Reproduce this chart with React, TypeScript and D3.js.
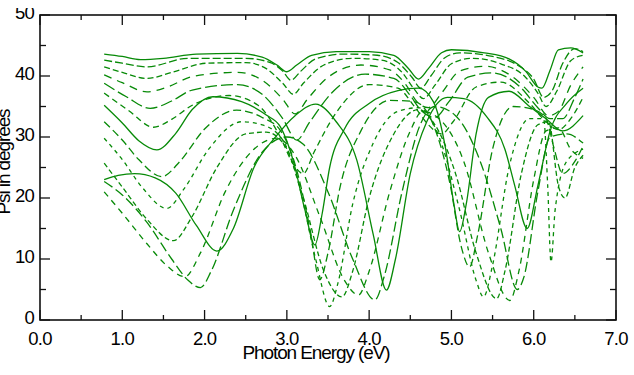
import React from "react";
import * as d3 from "d3";

type P = [number, number];

const xTicks = [0, 1, 2, 3, 4, 5, 6, 7];
const xMinor = [0.5, 1.5, 2.5, 3.5, 4.5, 5.5, 6.5];
const yTicks = [0, 10, 20, 30, 40, 50];
const yMinor = [5, 15, 25, 35, 45];
const xTitle = "Photon Energy (eV)";
const yTitle = "Psi in degrees";

const c1: P[] = [[0.78,43.6],[1.0,43.2],[1.22,42.7],[1.5,42.9],[1.9,43.6],[2.4,43.7],[2.7,43.1],[2.88,41.8],[3.0,40.7],[3.12,41.8],[3.3,43.4],[3.6,44.0],[4.0,44.0],[4.3,43.4],[4.48,41.2],[4.6,39.5],[4.72,41.2],[4.88,43.8],[5.0,44.3],[5.4,43.8],[5.7,42.8],[5.9,40.8],[6.05,38.2],[6.1,38.0],[6.2,41.0],[6.3,44.3],[6.45,44.6],[6.6,43.8]];
const c2: P[] = [[0.78,42.6],[1.0,42.1],[1.3,41.5],[1.8,42.9],[2.5,42.9],[2.8,42.2],[2.95,40.8],[3.05,39.3],[3.17,40.8],[3.35,42.8],[3.7,43.6],[4.1,43.4],[4.35,42.2],[4.52,39.8],[4.63,38.0],[4.75,40.0],[4.92,43.0],[5.1,43.8],[5.5,43.2],[5.8,41.8],[6.0,39.5],[6.12,36.5],[6.22,37.5],[6.35,42.0],[6.5,44.5],[6.6,44.0]];
const c3: P[] = [[0.78,41.5],[1.0,40.6],[1.3,39.6],[1.6,40.6],[2.03,42.1],[2.5,42.2],[2.75,41.2],[2.95,38.8],[3.08,37.0],[3.2,38.8],[3.45,41.8],[3.8,42.9],[4.15,42.6],[4.4,40.6],[4.55,37.8],[4.66,36.3],[4.8,38.5],[5.0,42.0],[5.25,42.9],[5.6,42.0],[5.9,39.8],[6.05,37.2],[6.15,35.0],[6.28,37.5],[6.45,42.5],[6.6,43.4]];
const c4: P[] = [[0.78,40.2],[1.0,38.9],[1.3,37.4],[1.55,38.2],[1.85,39.9],[2.4,40.6],[2.7,39.3],[2.95,36.2],[3.1,33.8],[3.25,36.2],[3.5,39.8],[3.9,41.8],[4.25,41.0],[4.45,38.5],[4.58,35.8],[4.72,34.8],[4.88,37.2],[5.1,40.8],[5.4,41.6],[5.75,39.8],[6.0,36.5],[6.18,33.5],[6.3,34.2],[6.45,38.5],[6.6,41.5]];
const c5: P[] = [[0.78,38.8],[1.05,36.6],[1.34,34.7],[1.6,35.9],[1.85,37.7],[2.4,38.6],[2.7,37.0],[2.95,33.0],[3.12,29.5],[3.28,32.5],[3.55,37.3],[3.95,40.3],[4.3,39.6],[4.5,36.8],[4.62,34.5],[4.8,33.2],[4.97,35.8],[5.2,39.8],[5.5,40.5],[5.85,38.0],[6.05,34.8],[6.2,33.0],[6.35,33.0],[6.5,36.5],[6.6,39.5]];
const c6: P[] = [[0.78,37.2],[1.08,34.3],[1.38,31.6],[1.6,32.9],[1.85,35.2],[2.3,36.8],[2.65,35.2],[2.92,30.0],[3.08,25.5],[3.2,24.0],[3.33,27.5],[3.6,34.0],[4.0,38.6],[4.35,38.0],[4.55,35.0],[4.72,32.0],[4.88,30.5],[5.02,32.5],[5.3,38.2],[5.6,39.0],[5.95,35.5],[6.15,32.5],[6.3,31.2],[6.45,33.0],[6.6,36.5]];
const c7: P[] = [[0.78,35.2],[1.0,32.3],[1.2,29.4],[1.42,27.9],[1.65,30.6],[1.85,34.5],[2.1,36.6],[2.45,35.8],[2.75,33.6],[2.92,31.7],[3.08,26.0],[3.22,18.0],[3.34,12.3],[3.43,17.5],[3.52,25.0],[3.7,31.3],[4.0,35.5],[4.35,37.6],[4.6,38.0],[4.78,35.8],[4.93,28.0],[5.03,19.0],[5.1,14.5],[5.18,19.0],[5.3,30.5],[5.45,36.5],[5.7,37.5],[5.95,35.0],[6.15,33.0],[6.35,31.0],[6.6,33.5]];
const c8: P[] = [[0.78,32.5],[1.0,29.5],[1.2,26.3],[1.48,23.5],[1.7,26.0],[2.0,31.3],[2.39,34.4],[2.7,33.2],[2.92,31.1],[3.1,25.5],[3.28,15.0],[3.4,6.6],[3.5,11.0],[3.65,22.0],[3.9,31.0],[4.25,36.0],[4.55,35.8],[4.78,32.0],[4.98,22.5],[5.12,12.0],[5.22,8.7],[5.32,14.0],[5.5,28.0],[5.75,35.0],[6.0,34.5],[6.15,33.0],[6.25,28.0],[6.35,24.0],[6.5,26.0],[6.6,28.5]];
const c9: P[] = [[0.78,29.8],[1.0,26.3],[1.25,21.6],[1.54,18.3],[1.75,21.5],[2.05,28.0],[2.45,32.5],[2.7,32.0],[2.95,29.5],[3.15,22.0],[3.35,10.0],[3.52,2.2],[3.62,6.0],[3.8,19.0],[4.05,29.0],[4.35,34.2],[4.6,34.8],[4.85,30.0],[5.1,18.0],[5.3,6.5],[5.39,3.8],[5.5,9.0],[5.7,25.0],[5.95,33.0],[6.12,33.0],[6.17,22.0],[6.21,9.5],[6.26,18.0],[6.4,26.0],[6.6,28.0]];
const c10: P[] = [[0.78,25.7],[1.0,21.8],[1.3,16.5],[1.62,13.0],[1.85,17.0],[2.15,25.0],[2.5,30.5],[2.75,30.8],[2.98,28.5],[3.2,20.0],[3.45,8.0],[3.67,3.8],[3.8,8.0],[4.0,20.0],[4.3,30.5],[4.6,34.5],[4.8,32.0],[5.05,24.0],[5.3,11.0],[5.55,3.5],[5.65,8.0],[5.85,24.0],[6.05,32.0],[6.18,32.5],[6.3,22.0],[6.38,20.0],[6.5,25.0],[6.6,27.0]];
const c11: P[] = [[0.78,23.0],[0.95,23.7],[1.15,24.0],[1.4,23.3],[1.65,20.8],[1.9,15.5],[2.15,11.3],[2.35,15.0],[2.6,25.0],[2.85,29.8],[3.1,33.5],[3.35,35.4],[3.6,32.5],[3.85,26.2],[4.05,14.0],[4.21,4.9],[4.32,10.0],[4.5,24.0],[4.7,32.5],[4.95,36.5],[5.15,36.3],[5.43,33.3],[5.65,28.0],[5.77,22.0],[5.92,15.0],[6.05,22.0],[6.2,31.0],[6.4,35.5],[6.6,38.0]];
const c12: P[] = [[0.78,22.7],[1.0,20.5],[1.3,16.0],[1.6,10.0],[1.8,6.5],[1.95,5.3],[2.08,8.0],[2.35,18.0],[2.7,27.5],[3.0,30.0],[3.2,28.8],[3.5,21.0],[3.8,10.0],[4.07,3.3],[4.18,7.0],[4.4,21.0],[4.62,32.0],[4.8,35.0],[5.05,33.5],[5.35,26.0],[5.6,15.0],[5.8,5.0],[5.88,7.0],[6.05,21.0],[6.2,30.0],[6.4,30.5],[6.6,29.0]];
const c13: P[] = [[0.78,21.0],[1.0,17.5],[1.3,12.5],[1.55,8.8],[1.76,7.1],[1.95,11.0],[2.25,21.0],[2.6,28.0],[2.88,29.8],[3.1,27.0],[3.4,17.0],[3.7,6.5],[3.87,4.1],[4.0,8.0],[4.25,21.0],[4.5,31.0],[4.65,34.2],[4.85,33.0],[5.15,26.0],[5.45,11.0],[5.71,3.2],[5.82,8.0],[6.0,23.0],[6.15,31.0],[6.3,31.5],[6.45,28.0],[6.6,26.5]];

const seriesList: P[][] = [c1, c2, c3, c4, c5, c6, c7, c8, c9, c10, c11, c12, c13];
const dashList = ["", "8,3", "6,3", "8,6", "12,4", "6,4", "", "8,4", "4,4", "5,3", "", "10,4", "6,5"];

const W = 634, H = 375;
const L = 40, R = 616, T = 15, B = 320;
const FONT = "'Liberation Sans', Arial, Helvetica, sans-serif";
const GREEN = "#078a07";

export default function App() {
  const x = d3.scaleLinear().domain([0, 7]).range([L, R]);
  const y = d3.scaleLinear().domain([0, 50]).range([B, T]);
  const line = d3.line<P>().x(d => x(d[0])).y(d => y(d[1])).curve(d3.curveMonotoneX);
  const fmt = d3.format(".1f");
  return (
    <svg width={W} height={H} style={{ position: "absolute", left: 0, top: 0 }} fontFamily={FONT}>
      <defs>
        <clipPath id="topclip"><rect x={0} y={8} width={W} height={H} /></clipPath>
      </defs>
      <rect x={0} y={0} width={W} height={H} fill="#fff" />
      {seriesList.map((s, i) => (
        <path key={i} d={line(s) || ""} fill="none" stroke={GREEN} strokeWidth={1.3}
          strokeDasharray={dashList[i] || undefined} />
      ))}
      <rect x={L} y={T} width={R - L} height={B - T} fill="none" stroke="#111" strokeWidth={1.6} />
      {xTicks.map(t => (
        <g key={"xt" + t}>
          <line x1={x(t)} x2={x(t)} y1={B} y2={B - 10} stroke="#111" strokeWidth={1.3} />
          <line x1={x(t)} x2={x(t)} y1={T} y2={T + 10} stroke="#111" strokeWidth={1.3} />
          <text x={x(t)} y={344.5} textAnchor="middle" fontSize={18.5} letterSpacing={-0.8}>{fmt(t)}</text>
        </g>
      ))}
      {xMinor.map(t => (
        <g key={"xm" + t}>
          <line x1={x(t)} x2={x(t)} y1={B} y2={B - 5} stroke="#111" strokeWidth={1.3} />
          <line x1={x(t)} x2={x(t)} y1={T} y2={T + 5} stroke="#111" strokeWidth={1.3} />
        </g>
      ))}
      <g clipPath="url(#topclip)">
        {yTicks.map(t => (
          <g key={"yt" + t}>
            <line x1={L} x2={L + 10} y1={y(t)} y2={y(t)} stroke="#111" strokeWidth={1.3} />
            <line x1={R} x2={R - 10} y1={y(t)} y2={y(t)} stroke="#111" strokeWidth={1.3} />
            <text x={34} y={y(t) + 4} textAnchor="end" fontSize={18.5} letterSpacing={-0.8}>{t}</text>
          </g>
        ))}
      </g>
      {yMinor.map(t => (
        <g key={"ym" + t}>
          <line x1={L} x2={L + 6} y1={y(t)} y2={y(t)} stroke="#111" strokeWidth={1.3} />
          <line x1={R} x2={R - 6} y1={y(t)} y2={y(t)} stroke="#111" strokeWidth={1.3} />
        </g>
      ))}
      <text x={316} y={358.5} textAnchor="middle" fontSize={19} letterSpacing={-1.1}>{xTitle}</text>
      <text transform={`translate(10,162) rotate(-90)`} textAnchor="middle" fontSize={19} letterSpacing={-1.1}>{yTitle}</text>
    </svg>
  );
}
